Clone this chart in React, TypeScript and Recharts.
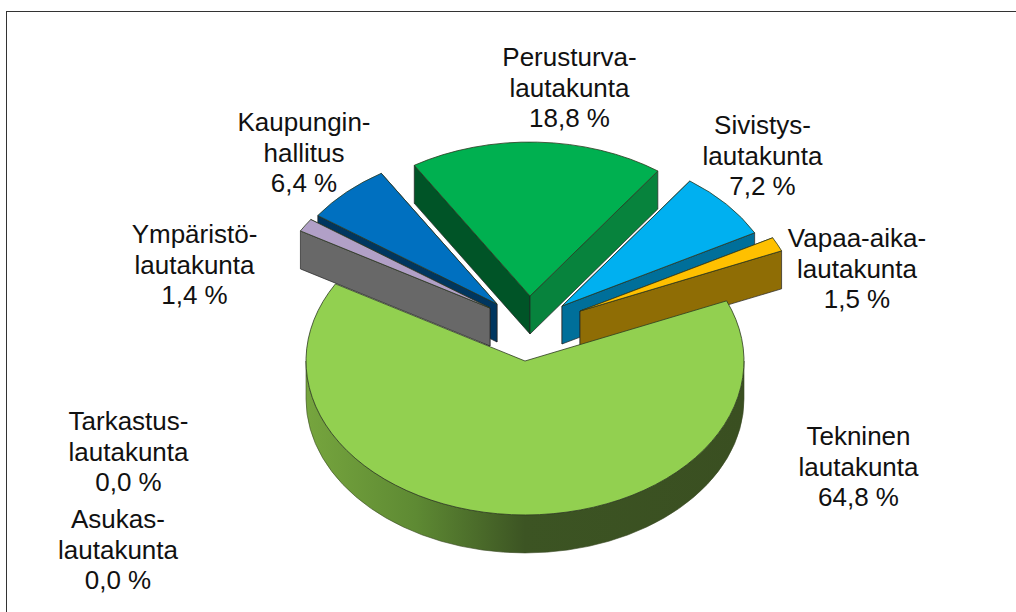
import { Pie, PieChart } from "recharts";

const WIDTH = 1016;
const HEIGHT = 612;

// Clockwise from the right-hand cut of the big slice, as in the picture
const categories = [
  ["Tekninen", "lautakunta"],
  ["Tarkastus-", "lautakunta"],
  ["Asukas-", "lautakunta"],
  ["Ympäristö-", "lautakunta"],
  ["Kaupungin-", "hallitus"],
  ["Perusturva-", "lautakunta"],
  ["Sivistys-", "lautakunta"],
  ["Vapaa-aika-", "lautakunta"],
];
const shares = [64.8, 0.0, 0.0, 1.4, 6.4, 18.8, 7.2, 1.5];

const pieData = categories.map((lines, i) => ({
  name: lines.join(" "),
  lines,
  value: shares[i],
}));

const topColors = ["#92D050", "#7F7F7F", "#7F7F7F", "#B1A0C7", "#0070C0", "#00B050", "#00B0F0", "#FFC000"];
// wall under the first cut edge, wall under the second cut edge
const wallColors = [
  ["#5f8a34", "#5f8a34"],
  ["#666", "#666"],
  ["#666", "#666"],
  ["#686868", "#686868"],
  ["#00365f", "#00365f"],
  ["#005427", "#07833d"],
  ["#006f9a", "#006f9a"],
  ["#8f6d05", "#8f6d05"],
];
// how far each slice is pulled away from the pie centre
const explode = [
  [0, 0],
  [0, 0],
  [0, 0],
  [-35, -53],
  [-28, -57],
  [5, -65],
  [37, -55],
  [55, -50],
];
const labelX = [858.5, 128.5, 118, 194.5, 304, 569.5, 762.5, 857];
const labelY = [445, 430, 528, 243, 131, 66, 134, 247];
const LINE_HEIGHT = 30.6;

// back to front, SVG has no z-index so every slice gets its own Pie
const paintOrder = [5, 4, 6, 3, 7, 0];

const SQUASH = 0.703;
const DEPTH = 38;
const FONT = "Liberation Sans, Arial, sans-serif";

const rad = (deg: number) => (deg * Math.PI) / 180;

const SliceShape = (props: any) => {
  const { cx, cy, outerRadius: r, startAngle, endAngle, name } = props;
  const i = pieData.findIndex((d) => d.name === name);
  const ax = cx + explode[i][0];
  const ay = cy + explode[i][1];
  const px = (a: number) => ax + r * Math.cos(rad(a));
  const py = (a: number) => ay - r * SQUASH * Math.sin(rad(a));
  const large = Math.abs(startAngle - endAngle) > 180 ? 1 : 0;
  const ry = r * SQUASH;

  const top = `M${ax},${ay}L${px(startAngle)},${py(startAngle)}A${r},${ry} 0 ${large} 1 ${px(endAngle)},${py(endAngle)}Z`;
  const wall = (a: number) =>
    `M${ax},${ay}L${px(a)},${py(a)}L${px(a)},${py(a) + DEPTH}L${ax},${ay + DEPTH}Z`;

  // the cut edge that ends lower on screen is the one in front
  const startInFront = py(startAngle) > py(endAngle);
  const backWall = startInFront
    ? { a: endAngle, fill: wallColors[i][1] }
    : { a: startAngle, fill: wallColors[i][0] };
  const frontWall = startInFront
    ? { a: startAngle, fill: wallColors[i][0] }
    : { a: endAngle, fill: wallColors[i][1] };

  // only the big slice shows its rim: the part of the arc on the lower half
  const hasRim = startAngle > 0 && endAngle < -180;
  const rim = `M${px(-180)},${py(-180)}A${r},${ry} 0 0 0 ${px(0)},${py(0)}L${px(0)},${py(0) + DEPTH}A${r},${ry} 0 0 1 ${px(-180)},${py(-180) + DEPTH}Z`;

  return (
    <g>
      {!hasRim && <path d={wall(backWall.a)} fill={backWall.fill} stroke="#222" strokeWidth={0.7} />}
      {!hasRim && <path d={wall(frontWall.a)} fill={frontWall.fill} stroke="#222" strokeWidth={0.7} />}
      {hasRim && <path d={rim} fill="url(#rimShade)" stroke="#3a4a25" strokeWidth={0.6} />}
      <path d={top} fill={topColors[i]} stroke="#2c3a20" strokeWidth={0.8} />
    </g>
  );
};

const SliceLabel = (props: any) => {
  const i = pieData.findIndex((d) => d.name === props.name);
  const value = `${shares[i].toFixed(1).replace(".", ",")} %`;
  return (
    <text textAnchor="middle" fontFamily={FONT} fontSize={26} fill="#111">
      {[...categories[i], value].map((line, n) => (
        <tspan key={n} x={labelX[i]} y={labelY[i] + n * LINE_HEIGHT}>
          {line}
        </tspan>
      ))}
    </text>
  );
};

export default function App() {
  return (
    <div style={{ position: "absolute", left: 0, top: 0, width: WIDTH, height: HEIGHT, background: "#fff", overflow: "hidden" }}>
      <div
        style={{
          position: "absolute",
          left: 6,
          top: 11,
          right: 0,
          bottom: 0,
          borderLeft: "1.5px solid #333",
          borderTop: "1.5px solid #333",
        }}
      />
      <PieChart width={WIDTH} height={HEIGHT} margin={{ top: 0, right: 0, bottom: 0, left: 0 }} style={{ position: "absolute", left: 0, top: 0 }}>
        <defs>
          <linearGradient id="rimShade" gradientUnits="userSpaceOnUse" x1={306} y1={0} x2={744} y2={0}>
            <stop offset="0" stopColor="#76a53e" />
            <stop offset="0.25" stopColor="#5e8a33" />
            <stop offset="0.5" stopColor="#3c5423" />
            <stop offset="1" stopColor="#3a4f21" />
          </linearGradient>
        </defs>
        {paintOrder.map((layer) => (
          <Pie
            key={layer}
            data={pieData}
            dataKey="value"
            nameKey="name"
            cx={525}
            cy={361}
            innerRadius={0}
            outerRadius={219}
            startAngle={23}
            endAngle={-337}
            paddingAngle={0}
            stroke="none"
            isAnimationActive={false}
            labelLine={false}
            label={layer === 0 ? SliceLabel : false}
            shape={(p: any) => (p.name === pieData[layer].name ? <SliceShape {...p} /> : <g />)}
          />
        ))}
      </PieChart>
    </div>
  );
}
